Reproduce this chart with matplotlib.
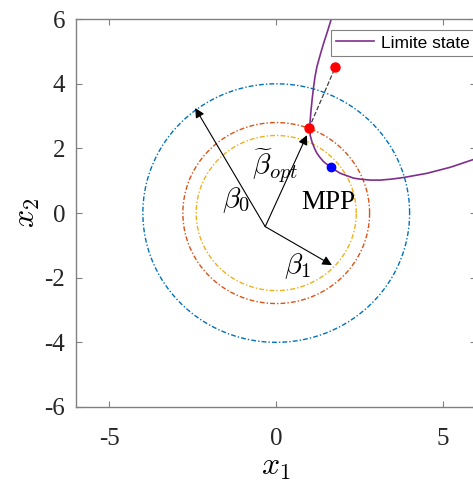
import numpy as np
import matplotlib.pyplot as plt

plt.rcParams['font.family'] = ['Liberation Serif', 'DejaVu Serif']
plt.rcParams['mathtext.fontset'] = 'cm'
plt.rcParams['axes.unicode_minus'] = False

# circles (radius) and their colours
radii = [4.0, 2.8, 2.4]
circle_colors = ['#0072BD', '#D95319', '#EDB120']

# arrows from the common origin
origin = (-0.33, -0.42)
tip_beta0 = (-2.43, 3.25)
tip_opt = (0.92, 2.41)
tip_beta1 = (1.67, -1.61)

# limit state curve
ls_x = [1.75, 1.65, 1.53, 1.42, 1.32, 1.22, 1.16, 1.12, 1.08, 1.04, 1.00, 1.02, 1.07, 1.14, 1.22,
        1.32, 1.42, 1.64, 1.92, 2.32, 2.52, 2.82, 3.12, 3.45, 3.82, 4.52, 5.23, 5.92, 6.3]
ls_y = [6.3, 6.0, 5.6, 5.25, 4.9, 4.53, 4.2, 3.9, 3.55, 3.14, 2.62, 2.4, 2.21, 2.02, 1.85,
        1.71, 1.59, 1.41, 1.23, 1.08, 1.05, 1.02, 1.02, 1.05, 1.10, 1.23, 1.42, 1.66, 1.78]

mpp_red = (0.98, 2.62)
start_red = (1.77, 4.51)
mpp_blue = (1.64, 1.41)

fig = plt.figure(figsize=(4.73, 4.86), dpi=100)
ax = fig.add_axes([0.161, 0.1626, 0.846, 0.798])

t = np.linspace(0, 2 * np.pi, 400)
for r, c in zip(radii, circle_colors):
    ax.plot(r * np.cos(t), r * np.sin(t), color=c, lw=1.0, dashes=(3.5, 1.5, 1, 1.5))

ax.plot(ls_x, ls_y, color='#7E2F8E', lw=1.2, label='Limite state')
ax.plot([mpp_red[0], start_red[0]], [mpp_red[1], start_red[1]], '--', color='#404040', lw=0.9)

for tip in [tip_beta0, tip_opt, tip_beta1]:
    ax.annotate('', xy=tip, xytext=origin,
                arrowprops=dict(arrowstyle='-|>', color='k', lw=0.8, mutation_scale=14,
                                shrinkA=0, shrinkB=0))

ax.plot(*mpp_red, 'o', color='r', ms=6.5)
ax.plot(*start_red, 'o', color='r', ms=6.5)
ax.plot(*mpp_blue, 'o', color='b', ms=6)

ax.text(-1.2, 0.4, r'$\beta_0$', fontsize=21, ha='center', va='center')
ax.text(-0.03, 1.45, r'$\widetilde{\beta}_{opt}$', fontsize=21, ha='center', va='center')
ax.text(0.63, -1.64, r'$\beta_1$', fontsize=21, ha='center', va='center')
ax.text(1.56, 0.34, 'MPP', fontsize=19.5, ha='center', va='center')

ax.set_xlim(-6, 6)
ax.set_ylim(-6, 6)
ax.set_xticks([-5, 0, 5])
ax.set_yticks([-6, -4, -2, 0, 2, 4, 6])
ax.tick_params(direction='in', top=True, right=True, labelsize=18, length=4,
               color='#808080', labelcolor='#262626')
ax.tick_params(axis='x', pad=15)
ax.tick_params(axis='y', pad=8)
for s in ax.spines.values():
    s.set_color('#808080')
    s.set_linewidth(1.0)

ax.set_xlabel(r'$x_1$', fontsize=23, labelpad=2)
ax.set_ylabel(r'$x_2$', fontsize=23, labelpad=2)

leg = ax.legend(loc='upper right', bbox_to_anchor=(1.01, 0.985), prop={'family': 'Liberation Sans', 'size': 12.5},
                fancybox=False, edgecolor='#808080', framealpha=1, handlelength=2.2,
                borderpad=0.3, handletextpad=0.4, borderaxespad=0.3)
leg.get_frame().set_linewidth(0.8)

fig.savefig('out.png', dpi=100)
